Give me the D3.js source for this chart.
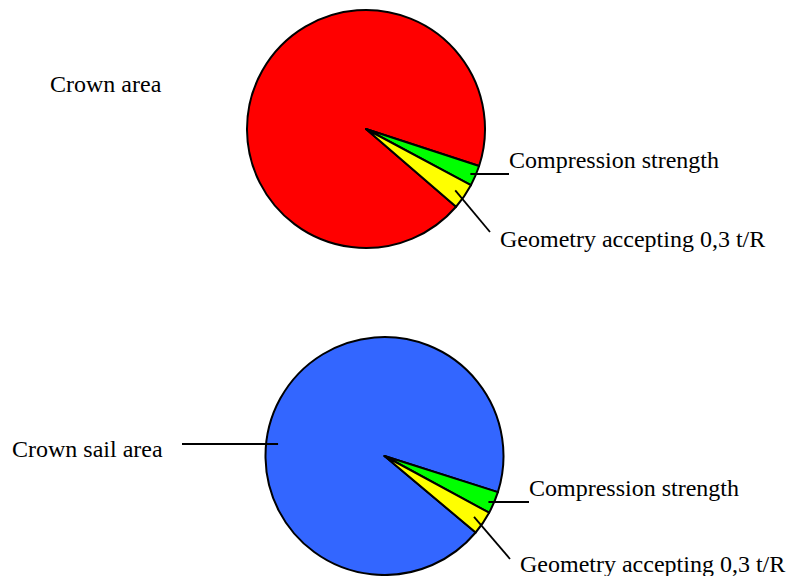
<!DOCTYPE html>
<html>
<head>
<meta charset="utf-8">
<script src="https://cdn.jsdelivr.net/npm/d3@7"></script>
<style>
  html, body { margin: 0; padding: 0; background: #fff; }
</style>
</head>
<body>
<svg id="chart" width="787" height="576"></svg>
<script>
// Share of each criterion (percent of total), one array per pie
const categoriesTop = ["Crown area", "Compression strength", "Geometry accepting 0,3 t/R"];
const valuesTop = [93.7, 2.8, 3.5];
const categoriesBottom = ["Crown sail area", "Compression strength", "Geometry accepting 0,3 t/R"];
const valuesBottom = [93.8, 3.0, 3.2];
const colorsTop = ["#FF0000", "#00FF00", "#FFFF00"];
const colorsBottom = ["#3366FF", "#00FF00", "#FFFF00"];

const svg = d3.select("#chart");
const R = 119;
const FONT = "'Liberation Serif', 'Times New Roman', Times, serif";

// label layout per pie: text anchor point and leader style
const pies = [
  {
    cats: categoriesTop, vals: valuesTop, colors: colorsTop,
    cx: 366, cy: 129, start: 130.8,
    labels: [
      { x: 50, y: 92, leader: null },
      { x: 509, y: 168, leader: "h", ly: 174 },
      { x: 500, y: 247, leader: "d", end: [490, 232] }
    ]
  },
  {
    cats: categoriesBottom, vals: valuesBottom, colors: colorsBottom,
    cx: 384.5, cy: 456, start: 130.0,
    labels: [
      { x: 12, y: 457, leader: "hl", ly: 444, x0: 182 },
      { x: 529, y: 496, leader: "h", ly: 502 },
      { x: 520, y: 572, leader: "d", end: [510, 559] }
    ]
  }
];

pies.forEach(p => {
  const pie = d3.pie().sort(null)
    .startAngle(p.start * Math.PI / 180)
    .endAngle(p.start * Math.PI / 180 + 2 * Math.PI);
  const arcs = pie(p.vals);
  const arc = d3.arc().innerRadius(0).outerRadius(R);
  const g = svg.append("g").attr("transform", `translate(${p.cx},${p.cy})`);

  g.selectAll("path.slice").data(arcs).join("path")
    .attr("class", "slice")
    .attr("d", arc)
    .attr("fill", (d, i) => p.colors[i])
    .attr("stroke", "#000")
    .attr("stroke-width", 2)
    .attr("stroke-linejoin", "round");

  // leader lines and labels
  arcs.forEach((a, i) => {
    const lab = p.labels[i];
    const mid = (a.startAngle + a.endAngle) / 2;
    if (lab.leader === "h") {
      // horizontal leader from inside the slice to the label
      const dy = lab.ly - p.cy;
      const rr = 0.955 * R;
      const px = Math.sqrt(rr * rr - dy * dy);
      g.append("line")
        .attr("x1", px).attr("y1", dy)
        .attr("x2", lab.x - p.cx).attr("y2", dy)
        .attr("stroke", "#000").attr("stroke-width", 1.8);
    } else if (lab.leader === "d") {
      const rr = 0.91 * R;
      const sx = rr * Math.sin(mid), sy = -rr * Math.cos(mid);
      g.append("line")
        .attr("x1", sx).attr("y1", sy)
        .attr("x2", lab.end[0] - p.cx).attr("y2", lab.end[1] - p.cy)
        .attr("stroke", "#000").attr("stroke-width", 1.8);
    } else if (lab.leader === "hl") {
      const dy = lab.ly - p.cy;
      const rr = 0.9 * R;
      const px = -Math.sqrt(rr * rr - dy * dy);
      g.append("line")
        .attr("x1", lab.x0 - p.cx).attr("y1", dy)
        .attr("x2", px).attr("y2", dy)
        .attr("stroke", "#000").attr("stroke-width", 1.8);
    }
    svg.append("text")
      .attr("x", lab.x).attr("y", lab.y)
      .attr("font-family", FONT)
      .attr("font-size", 24)
      .attr("fill", "#000")
      .text(p.cats[i]);
  });
});
</script>
</body>
</html>
